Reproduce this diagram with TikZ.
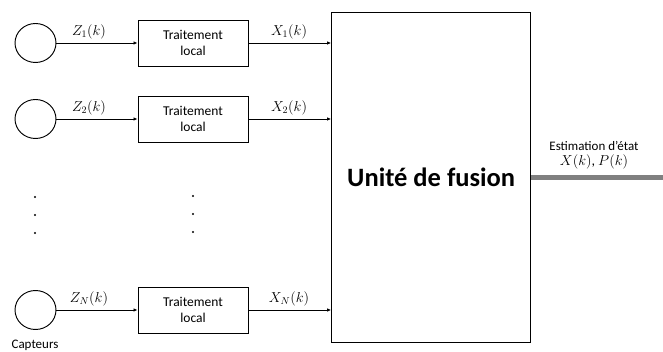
\documentclass[tikz,border=0pt]{standalone}
\usepackage{fontspec}
\setmainfont{Carlito}
\usetikzlibrary{arrows.meta,shapes.geometric}
\begin{document}
\begin{tikzpicture}[x=1pt,y=-1pt,
  sensor/.style={draw,line width=0.95pt,ellipse,minimum width=41pt,minimum height=39pt,inner sep=0pt},
  procbox/.style={draw,line width=0.95pt,minimum width=110pt,minimum height=46pt,align=center,font=\fontsize{13.5}{16.5}\selectfont,inner sep=0pt},
  link/.style={line width=0.8pt,-{Latex[length=4pt,width=3.5pt]}},
  sig/.style={font=\fontsize{14}{16}\selectfont,inner sep=0pt},
  dotmark/.style={fill,circle,inner sep=0pt,minimum size=2.4pt}]
\useasboundingbox (0,0) rectangle (663,352);
% fusion unit
\node[draw,line width=1.1pt,minimum width=199pt,minimum height=330pt,inner sep=0pt,
      font=\bfseries\fontsize{26.5}{30}\selectfont] (fus) at (431.2,177.3) {Unité de fusion};
% sensor chains
\foreach \i/\y/\s in {1/43/1,2/119/2,3/310/N}{
  \node[sensor] (c\i) at (35.5,\y) {};
  \node[procbox] (p\i) at (193,\y) {Traitement\\local};
  \coordinate (f\i) at (fus.west |- 0,\y);
  \draw[link] (c\i) -- (p\i);
  \draw[link] (p\i) -- (f\i);
  \node[sig] at (89,\y-11) {$Z_{\s}(k)$};
  \node[sig] at (289,\y-11) {$X_{\s}(k)$};
}
% ellipsis dots
\foreach \y in {197,215,233}{ \node[dotmark] (dl\y) at (35,\y) {}; }
\foreach \y in {196,214,232}{ \node[dotmark] (dr\y) at (193,\y) {}; }
% output
\coordinate (out) at (663,178);
\draw[line width=5pt,draw={rgb,255:red,128;green,128;blue,128}] (fus.east |- out) -- (out);
\node[font=\fontsize{13}{15}\selectfont,inner sep=0pt] (est) at (594,146) {Estimation d’état};
\node[sig] (xp) at (594,162) {$X(k)$, $P(k)$};
\node[font=\fontsize{13}{15}\selectfont,inner sep=0pt] (capt) at (35,345) {Capteurs};
\end{tikzpicture}
\end{document}
